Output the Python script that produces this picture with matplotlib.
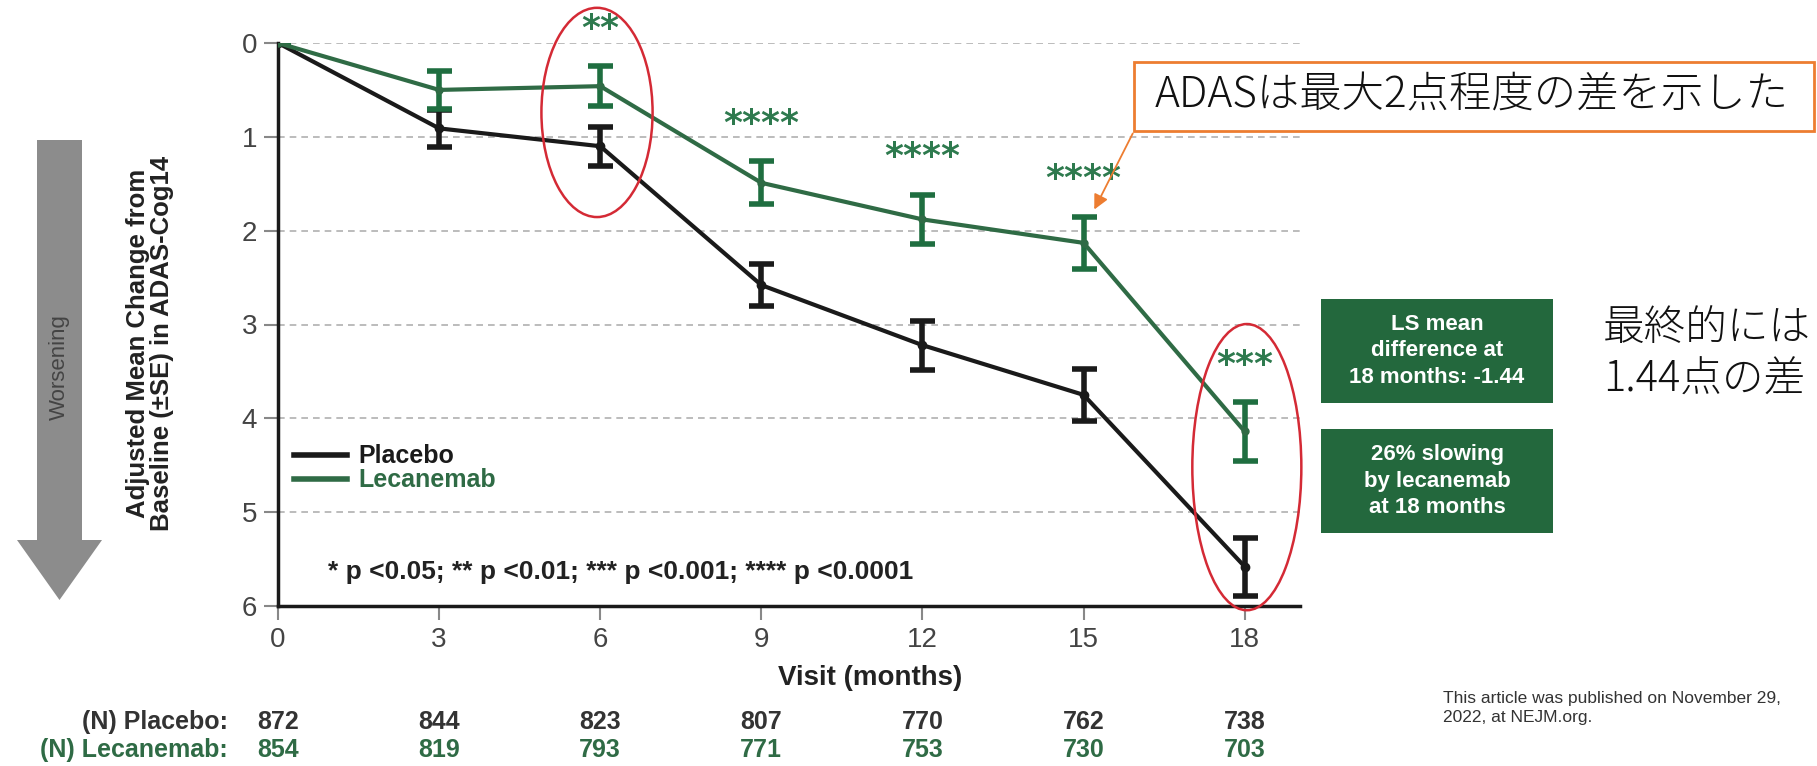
import matplotlib
matplotlib.use('Agg')
import matplotlib.pyplot as plt
from matplotlib.patches import Rectangle, Ellipse, Polygon, FancyArrowPatch
from matplotlib.lines import Line2D
from matplotlib.transforms import blended_transform_factory

# data
months = [0, 3, 6, 9, 12, 15, 18]
placebo = [0, 0.91, 1.10, 2.58, 3.22, 3.75, 5.58]
placebo_se = [0, 0.20, 0.21, 0.22, 0.26, 0.28, 0.31]
lecanemab = [0, 0.50, 0.46, 1.49, 1.88, 2.13, 4.14]
lecanemab_se = [0, 0.20, 0.21, 0.23, 0.26, 0.28, 0.31]
stars = ['', '', '**', '****', '****', '****', '***']
n_placebo = [872, 844, 823, 807, 770, 762, 738]
n_lecanemab = [854, 819, 793, 771, 753, 730, 703]
yticks = [0, 1, 2, 3, 4, 5, 6]

W, H = 1817, 766
BLACK = '#1a1a1a'
GREEN = '#2f6b45'
BOXGREEN = '#23683d'
ORANGE = '#ED7D31'
RED = '#d42a35'

plt.rcParams['font.family'] = ['Liberation Sans', 'DejaVu Sans']


def fx(x):
    return x / W


def fy(y):
    return 1 - y / H


fig = plt.figure(figsize=(W / 100, H / 100), dpi=100)
ax = fig.add_axes([fx(278), fy(606), (1300 - 278) / W, (606 - 43) / H])

# dashed grid
ax.set_axisbelow(True)
ax.yaxis.grid(True, linestyle=(0, (4, 3)), color='#b0b0b0', lw=1.2)

ax.errorbar(months, placebo, yerr=placebo_se, color=BLACK, lw=3, marker='o', ms=6,
            elinewidth=4, capsize=9, capthick=4, zorder=3)
ax.errorbar(months, lecanemab, yerr=lecanemab_se, color=GREEN, lw=3, marker='o', ms=5,
            ecolor='#1f6e40', elinewidth=4, capsize=9, capthick=4, zorder=4)

# significance stars
for m, v, s, st in zip(months, lecanemab, lecanemab_se, stars):
    if st:
        ax.text(m, v - s - 0.22, st, color='#2e7a4e', fontsize=26, fontweight='bold',
                ha='center', va='bottom', family='DejaVu Sans', clip_on=False)

ax.set_xlim(0, 19.03)
ax.set_ylim(6, 0)
ax.set_xticks(months)
ax.set_yticks(yticks)
ax.tick_params(axis='both', labelsize=20, labelcolor='#444444', color='#888888',
               length=10, width=1.5, pad=5)
for side in ['top', 'right']:
    ax.spines[side].set_visible(False)
for side in ['left', 'bottom']:
    ax.spines[side].set_linewidth(2.5)
    ax.spines[side].set_color(BLACK)

ax.set_xlabel('Visit (months)', fontsize=20, fontweight='bold', color='#222222')
ax.xaxis.set_label_coords((870 - 278) / 1022, -0.105)

# legend
handles = [Line2D([], [], color=BLACK, lw=4), Line2D([], [], color=GREEN, lw=4)]
ax.legend(handles, ['Placebo', 'Lecanemab'], loc='upper left',
          bbox_to_anchor=(0.016, 0.287), frameon=False, handlelength=2.1,
          handletextpad=0.45, labelspacing=0.0, borderpad=0, borderaxespad=0,
          prop={'weight': 'bold', 'size': 18}, labelcolor=[BLACK, GREEN])

ax.text(0.93, 5.64, '* p <0.05; ** p <0.01; *** p <0.001; **** p <0.0001',
        fontsize=19, fontweight='bold', color='#222222', va='center', ha='left')

# red circles
ax.add_patch(Ellipse((5.94, 0.74), 2.07, 2.23, fill=False, ec=RED, lw=1.8, clip_on=False, zorder=6))
ax.add_patch(Ellipse((18.04, 4.52), 2.03, 3.05, fill=False, ec=RED, lw=1.8, clip_on=False, zorder=6))

# number at risk table
tr = blended_transform_factory(ax.transData, fig.transFigure)
fig.text(fx(228), fy(722), '(N) Placebo:', fontsize=18, fontweight='bold',
         color='#333333', ha='right', va='center')
fig.text(fx(228), fy(750), '(N) Lecanemab:', fontsize=18, fontweight='bold',
         color=GREEN, ha='right', va='center')
for m, a, b in zip(months, n_placebo, n_lecanemab):
    ax.text(m, fy(722), str(a), transform=tr, fontsize=18, fontweight='bold',
            color='#333333', ha='center', va='center')
    ax.text(m, fy(750), str(b), transform=tr, fontsize=18, fontweight='bold',
            color=GREEN, ha='center', va='center')

# worsening arrow + y label
arrow_pts = [(37, 140), (82, 140), (82, 540), (102, 540), (59.5, 600), (17, 540), (37, 540)]
fig.add_artist(Polygon([(fx(x), fy(y)) for x, y in arrow_pts], closed=True,
                       transform=fig.transFigure, fc='#8c8c8c', ec='none'))
fig.text(fx(59.5), fy(367), 'Worsening', rotation=90, fontsize=16, color='#444444',
         ha='center', va='center')
fig.text(fx(150), fy(343), 'Adjusted Mean Change from\nBaseline (\u00b1SE) in ADAS-Cog14',
         rotation=90, fontsize=18.5, fontweight='bold', color='#222222',
         ha='center', va='center', multialignment='center', linespacing=1.05)

# green result boxes
fig.add_artist(Rectangle((fx(1321), fy(403)), (1553 - 1321) / W, (403 - 299) / H,
                         transform=fig.transFigure, fc=BOXGREEN, ec='none'))
fig.text(fx(1437), fy(351), 'LS mean\ndifference at\n18 months: -1.44', color='white',
         fontsize=16, fontweight='bold', ha='center', va='center', linespacing=1.35)
fig.add_artist(Rectangle((fx(1321), fy(533)), (1553 - 1321) / W, (533 - 429) / H,
                         transform=fig.transFigure, fc=BOXGREEN, ec='none'))
fig.text(fx(1437), fy(481), '26% slowing\nby lecanemab\nat 18 months', color='white',
         fontsize=16, fontweight='bold', ha='center', va='center', linespacing=1.35)

# japanese callouts
jp = ['Noto Sans CJK JP', 'DejaVu Sans']
fig.add_artist(Rectangle((fx(1134), fy(131)), (1814 - 1134) / W, (131 - 62) / H,
                         transform=fig.transFigure, fc='white', ec=ORANGE, lw=2))
fig.text(fx(1155), fy(96), 'ADASは最大2点程度の差を示した', fontsize=30.5, family=jp,
         fontweight='light', color='#111111', ha='left', va='center')
fig.add_artist(FancyArrowPatch(posA=(fx(1134), fy(131)), posB=(fx(1093), fy(212)),
                               transform=fig.transFigure, arrowstyle='-|>',
                               mutation_scale=22, color=ORANGE, lw=1.3))
fig.text(fx(1603), fy(354), '最終的には\n1.44点の差', fontsize=30, family=jp,
         fontweight='light', color='#111111', ha='left', va='center', linespacing=1.25)

fig.text(fx(1443), fy(708), 'This article was published on November 29,\n2022, at NEJM.org.',
         fontsize=12.5, color='#333333', ha='left', va='center', linespacing=1.3)

fig.savefig('out.png', dpi=100, facecolor='white')
